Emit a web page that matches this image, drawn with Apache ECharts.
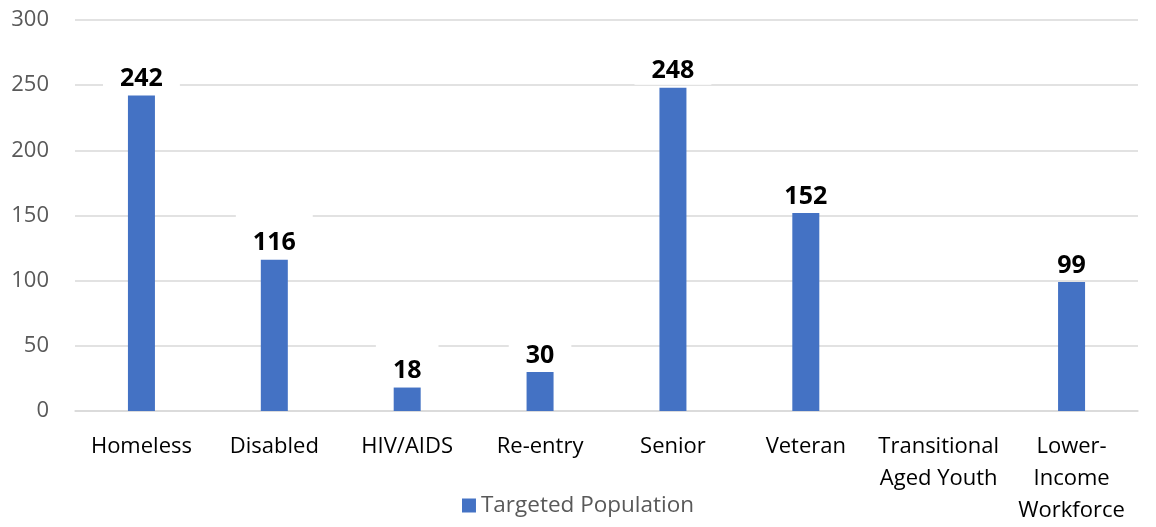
<!DOCTYPE html>
<html>
<head>
<meta charset="utf-8">
<script src="https://cdn.jsdelivr.net/npm/echarts@6/dist/echarts.min.js"></script>
<style>html,body{margin:0;padding:0;background:#fff;}#c{width:1156px;height:527px;}</style>
</head>
<body>
<div id="c"></div>
<script>
const categories = ['Homeless', 'Disabled', 'HIV/AIDS', 'Re-entry', 'Senior', 'Veteran', 'Transitional\nAged Youth', 'Lower-\nIncome\nWorkforce'];
const targetedPopulation = [242, 116, 18, 30, 248, 152, '-', 99];
const yTicks = { min: 0, max: 300, interval: 50 };
const seriesName = 'Targeted Population';

const chart = echarts.init(document.getElementById('c'));
chart.setOption({
  animation: false,
  textStyle: { fontFamily: 'Open Sans' },
  grid: { left: 75, right: 18, top: 20, bottom: 114, containLabel: false },
  legend: {
    data: [seriesName],
    top: 489,
    left: 'center',
    icon: 'rect',
    itemWidth: 14,
    itemHeight: 14,
    itemGap: 8,
    textStyle: { color: '#595959', fontSize: 22.5, fontFamily: 'Open Sans' }
  },
  xAxis: {
    type: 'category',
    data: categories,
    axisLine: { show: true, lineStyle: { color: '#d9d9d9', width: 1.5 } },
    axisTick: { show: false },
    axisLabel: { interval: 0, color: '#000', fontSize: 22, lineHeight: 32, margin: 20, fontFamily: 'Open Sans' }
  },
  yAxis: {
    type: 'value',
    min: yTicks.min,
    max: yTicks.max,
    interval: yTicks.interval,
    axisLine: { show: false },
    axisTick: { show: false },
    splitLine: { lineStyle: { color: '#d9d9d9', width: 1.5 } },
    axisLabel: { color: '#595959', fontSize: 22, margin: 26, fontFamily: 'Open Sans' }
  },
  series: [{
    name: seriesName,
    type: 'bar',
    data: targetedPopulation,
    barWidth: 27,
    itemStyle: { color: '#4472C4' },
    label: {
      show: true,
      position: 'top',
      distance: 3,
      color: '#000',
      fontWeight: 'bold',
      fontSize: 25,
      fontFamily: 'Open Sans',
      backgroundColor: '#fff',
      padding: [16, 17, 1, 17]
    }
  }]
});
</script>
</body>
</html>
